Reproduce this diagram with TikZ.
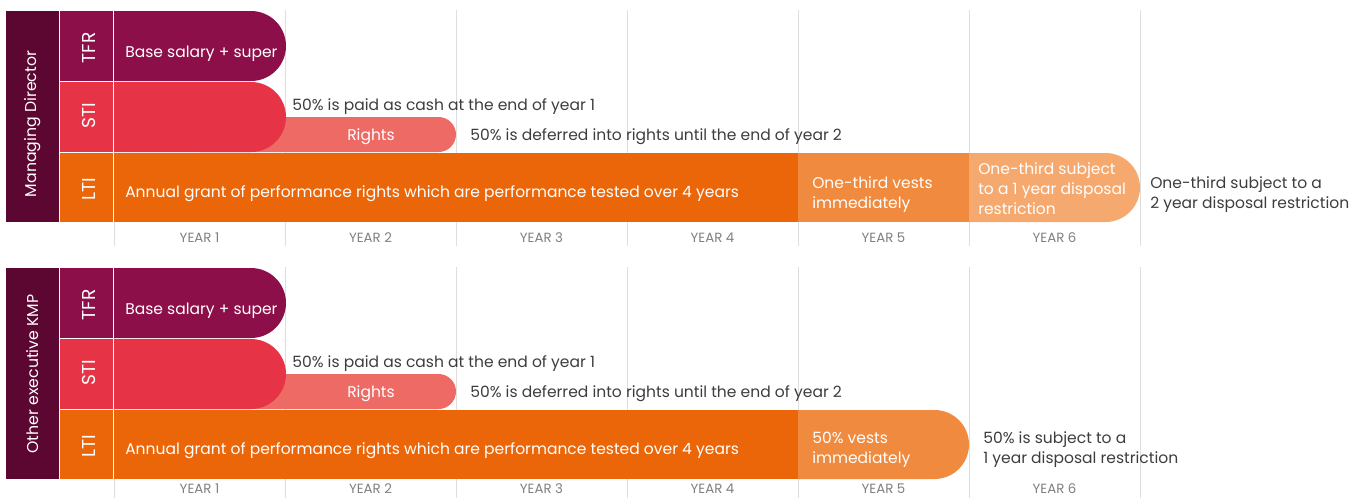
\documentclass[tikz,border=0pt]{standalone}
\usepackage{fontspec}
\setmainfont{Poppins}
\usetikzlibrary{positioning}
\definecolor{plum}{HTML}{5C0632}
\definecolor{berry}{HTML}{8C0F49}
\definecolor{crimson}{HTML}{E63446}
\definecolor{coral}{HTML}{EE6A65}
\definecolor{tangerine}{HTML}{EB6608}
\definecolor{apricot}{HTML}{F08A3E}
\definecolor{peach}{HTML}{F5A96F}
\definecolor{ink}{HTML}{3D3D3D}
\definecolor{yeargrey}{HTML}{808080}
\definecolor{gridgrey}{HTML}{DEDEDE}

% bar with a round right end: colour, x1, y1, x2, y2
\newcommand{\pillbar}[5]{%
  \fill[#1] (#2,#3) -- ({#4-(#5-#3)/2},#3)
    arc[start angle=-90, end angle=90, radius={(#5-#3)/2}] -- (#2,#5) -- cycle;}

\begin{document}
\begin{tikzpicture}[x=0.75pt, y=-0.75pt,
  side/.style={text=white, rotate=90, inner sep=0pt, font=\fontsize{11.8}{13}\selectfont},
  tag/.style={text=white, rotate=90, inner sep=0pt, font=\fontsize{14}{16}\selectfont},
  inbar/.style={text=white, anchor=base west, inner sep=0pt, align=left, font=\fontsize{11.65}{15}\selectfont},
  note/.style={text=ink, anchor=base west, inner sep=0pt, align=left, font=\fontsize{11.65}{15}\selectfont},
  yearlbl/.style={text=yeargrey, inner sep=0pt, font=\fontsize{10}{11}\selectfont}]
\useasboundingbox (0,0) rectangle (1362,497);

% Column lines and year labels
\foreach \s/\oy/\ly in {1/0/237.5, 2/257/489} {
  \foreach \x in {114,285,...,1140}
    \draw[gridgrey, line width=0.75pt] (\x,{10+\oy}) -- (\x,{246+\oy});
  \foreach \n in {1,...,6}
    \node[yearlbl] (year\n-\s) at ({114+171*(\n-0.5)},\ly) {YEAR \n};
}

% Rows shared by both sections
\foreach \s/\oy/\who/\wy in {1/0/Managing Director/124, 2/257/Other executive KMP/117} {
  \begin{scope}[shift={(0,\oy)}]
  % side labels
  \fill[plum] (6,11) rectangle (59,222);
  \node[side] (who-\s) at (33,\wy) {\who};
  \fill[berry] (60,11) rectangle (113,81);
  \node[tag] (tfr-\s) at (89,48) {TFR};
  \fill[crimson] (60,82) rectangle (113,152);
  \node[tag] (sti-\s) at (89,116) {STI};
  \fill[tangerine] (60,153) rectangle (113,222);
  \node[tag] (lti-\s) at (89,189) {LTI};
  % TFR and STI bars
  \pillbar{coral}{200}{117}{456}{152}
  \pillbar{berry}{114}{11}{286}{81}
  \pillbar{crimson}{114}{82}{286}{152}
  \node[inbar] (base-\s) at (125,57) {Base salary + super};
  \node[inbar, anchor=base] (rights-\s) at (371,140) {Rights};
  \node[note] (cash-\s) at (292,110) {50\% is paid as cash at the end of year 1};
  \node[note] (defer-\s) at (470,140) {50\% is deferred into rights until the end of year 2};
  % LTI bar
  \fill[tangerine] (114,153) rectangle (798,222);
  \node[inbar] (grant-\s) at (125,197) {Annual grant of performance rights which are performance tested over 4 years};
  \end{scope}
}

% Managing Director: LTI tail
\fill[apricot] (798,153) rectangle (969,222);
\pillbar{peach}{969}{153}{1140}{222}
\node[inbar, anchor=west] (vest-1) at (812,194.5) {One-third vests\\immediately};
\node[inbar, anchor=west] (hold-1) at (978,188.5) {One-third subject\\to a 1 year disposal\\restriction};
\node[note, anchor=west] (later-1) at (1150,194.5) {One-third subject to a\\2 year disposal restriction};

% Other executive KMP: LTI tail
\pillbar{apricot}{798}{410}{969}{479}
\node[inbar, anchor=west] (vest-2) at (812,449.5) {50\% vests\\immediately};
\node[note, anchor=west] (later-2) at (983,449.5) {50\% is subject to a\\1 year disposal restriction};

\end{tikzpicture}
\end{document}
